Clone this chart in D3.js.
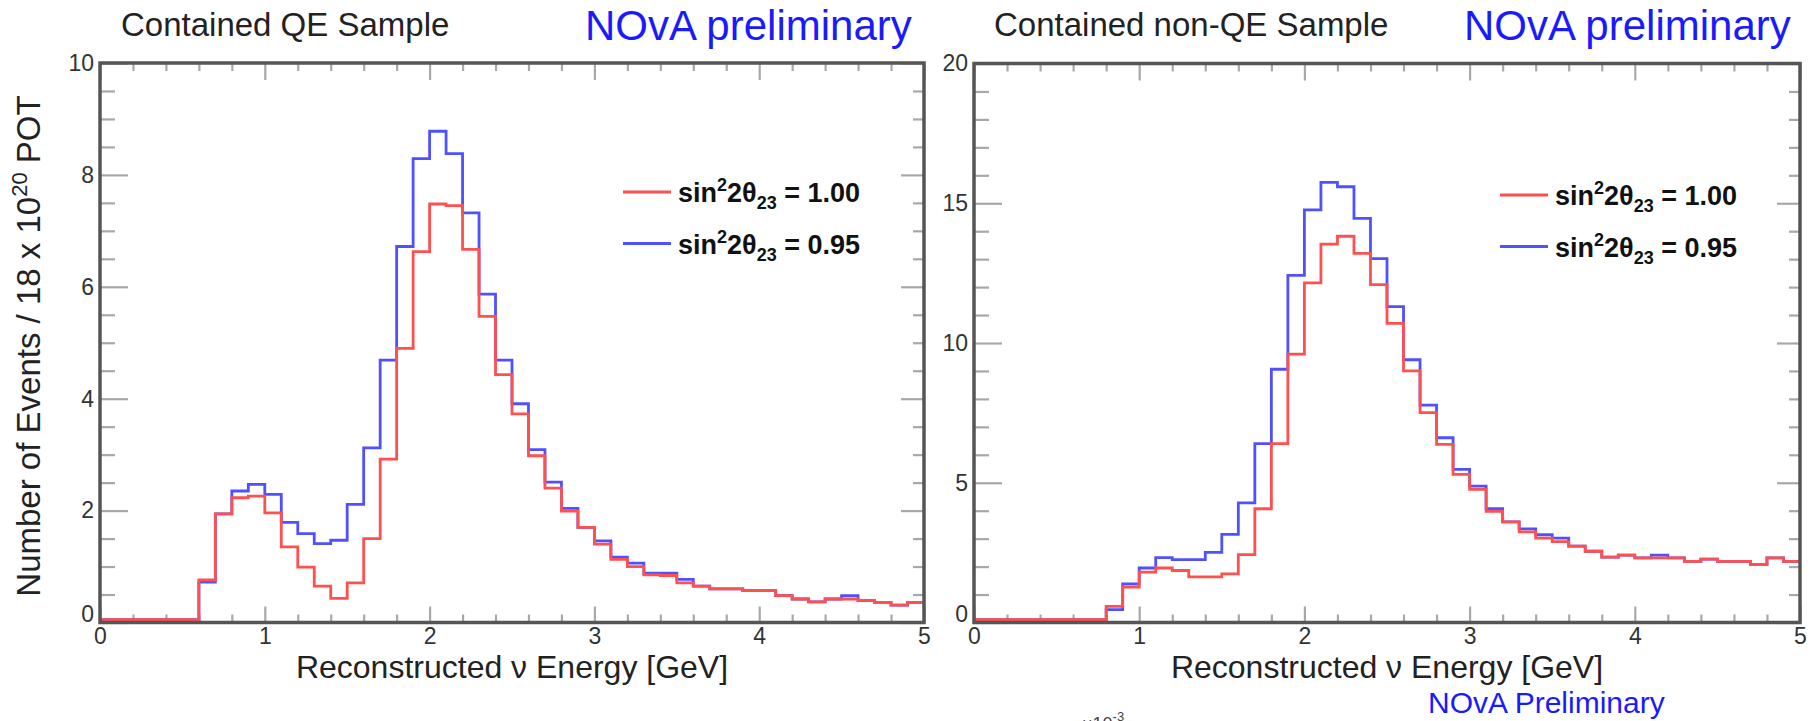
<!DOCTYPE html>
<html>
<head>
<meta charset="utf-8">
<script src="https://cdn.jsdelivr.net/npm/d3@7"></script>
<style>
  html, body { margin: 0; padding: 0; background: #fff; }
  svg { display: block; font-family: "Liberation Sans", Arial, Helvetica, sans-serif; }
</style>
</head>
<body>
<svg id="chart" width="1814" height="721"></svg>
<script>
// Reconstructed neutrino energy bin edges [GeV], 0.1 GeV bins
const binEdges = [0.0,0.1,0.2,0.3,0.4,0.5,0.6,0.7,0.8,0.9,1.0,1.1,1.2,1.3,1.4,1.5,1.6,1.7,1.8,1.9,
                  2.0,2.1,2.2,2.3,2.4,2.5,2.6,2.7,2.8,2.9,3.0,3.1,3.2,3.3,3.4,3.5,3.6,3.7,3.8,3.9,
                  4.0,4.1,4.2,4.3,4.4,4.5,4.6,4.7,4.8,4.9,5.0];

// Contained QE sample, events per bin
const qeMaximal = [0.05,0.05,0.05,0.05,0.05,0.05,0.76,1.94,2.23,2.26,
                   1.96,1.35,0.99,0.65,0.43,0.71,1.50,2.92,4.90,6.63,
                   7.48,7.45,6.67,5.47,4.43,3.73,2.98,2.40,1.99,1.70,
                   1.40,1.13,1.00,0.85,0.84,0.71,0.65,0.60,0.60,0.57,
                   0.57,0.48,0.42,0.37,0.42,0.42,0.39,0.36,0.31,0.36];
const qeNonMaximal = [0.05,0.05,0.05,0.05,0.05,0.05,0.72,1.94,2.35,2.47,
                      2.29,1.79,1.59,1.41,1.47,2.11,3.12,4.69,6.72,8.29,
                      8.78,8.38,7.32,5.87,4.69,3.91,3.09,2.51,2.04,1.70,
                      1.46,1.17,1.06,0.88,0.88,0.77,0.65,0.60,0.60,0.57,
                      0.57,0.48,0.42,0.37,0.42,0.48,0.39,0.36,0.31,0.36];

// Contained non-QE sample, events per bin
const nonQeMaximal = [0.10,0.10,0.10,0.10,0.10,0.10,0.10,0.10,0.58,1.27,
                      1.80,1.95,1.86,1.63,1.63,1.74,2.43,4.07,6.40,9.60,
                      12.15,13.54,13.82,13.21,12.09,10.70,9.00,7.51,6.37,5.30,
                      4.76,3.98,3.60,3.24,3.02,2.89,2.73,2.55,2.34,2.41,
                      2.31,2.31,2.31,2.19,2.27,2.19,2.19,2.07,2.31,2.19];
const nonQeNonMaximal = [0.10,0.10,0.10,0.10,0.10,0.10,0.10,0.10,0.46,1.38,
                         1.95,2.32,2.25,2.25,2.51,3.15,4.28,6.40,9.06,12.42,
                         14.76,15.75,15.59,14.46,13.02,11.30,9.40,7.78,6.61,5.48,
                         4.88,4.07,3.60,3.35,3.14,3.02,2.73,2.55,2.34,2.41,
                         2.31,2.41,2.31,2.19,2.27,2.19,2.19,2.07,2.31,2.19];

// Axis ticks
const xMajorTicks = [0,1,2,3,4,5];
const xMinorTicks = [0.2,0.4,0.6,0.8,1.2,1.4,1.6,1.8,2.2,2.4,2.6,2.8,3.2,3.4,3.6,3.8,4.2,4.4,4.6,4.8];
const qeYMajor = [0,2,4,6,8,10];
const qeYMinor = [0.5,1,1.5,2.5,3,3.5,4.5,5,5.5,6.5,7,7.5,8.5,9,9.5];
const nonQeYMajor = [0,5,10,15,20];
const nonQeYMinor = [1,2,3,4,6,7,8,9,11,12,13,14,16,17,18,19];

// Legend entries: sin^2(2 theta_23) values
const legendValues = ["1.00", "0.95"];

const RED = "#ff5050";
const BLUE = "#5050ff";
const FRAME = "#555555";
const TICK = "#a8a8a8";
const FONT = "'Liberation Sans', Arial, Helvetica, sans-serif";

const svg = d3.select("#chart");

function stepPoints(values) {
  const pts = [];
  values.forEach((v, i) => {
    pts.push([binEdges[i], v]);
    pts.push([binEdges[i + 1], v]);
  });
  return pts;
}

function drawPanel(cfg) {
  const g = svg.append("g");
  const x = d3.scaleLinear().domain([0, 5]).range([cfg.left, cfg.right]);
  const y = d3.scaleLinear().domain([0, cfg.yMax]).range([cfg.bottom, cfg.top]);

  // ticks, all pointing into the frame
  const tickAxis = (axis, tr) => {
    const a = g.append("g").attr("transform", tr).call(axis);
    a.select(".domain").remove();
    a.selectAll("line").attr("stroke", TICK).attr("stroke-width", 2.2);
    a.selectAll("text").remove();
  };
  tickAxis(d3.axisBottom(x).tickValues(xMinorTicks).tickSize(-8), `translate(0,${cfg.bottom})`);
  tickAxis(d3.axisBottom(x).tickValues(xMajorTicks).tickSize(-16), `translate(0,${cfg.bottom})`);
  tickAxis(d3.axisTop(x).tickValues(xMinorTicks).tickSize(-8), `translate(0,${cfg.top})`);
  tickAxis(d3.axisTop(x).tickValues(xMajorTicks).tickSize(-17), `translate(0,${cfg.top})`);
  tickAxis(d3.axisLeft(y).tickValues(cfg.yMinor).tickSize(-15), `translate(${cfg.left},0)`);
  tickAxis(d3.axisLeft(y).tickValues(cfg.yMajor).tickSize(-28), `translate(${cfg.left},0)`);
  tickAxis(d3.axisRight(y).tickValues(cfg.yMinor).tickSize(-11), `translate(${cfg.right},0)`);
  tickAxis(d3.axisRight(y).tickValues(cfg.yMajor).tickSize(-23), `translate(${cfg.right},0)`);

  // tick labels
  const xl = g.append("g").attr("transform", `translate(0,${cfg.bottom})`)
    .call(d3.axisBottom(x).tickValues(xMajorTicks).tickSize(0).tickPadding(5).tickFormat(d3.format("d")));
  xl.select(".domain").remove();
  xl.selectAll("text").attr("font-size", 23).attr("font-family", FONT).attr("fill", "#333");

  const yl = g.append("g").attr("transform", `translate(${cfg.left},0)`)
    .call(d3.axisLeft(y).tickValues(cfg.yMajor).tickSize(0).tickPadding(6).tickFormat(d3.format("d")));
  yl.select(".domain").remove();
  yl.selectAll("text").attr("font-size", 23).attr("font-family", FONT).attr("fill", "#333");
  yl.selectAll(".tick").filter(d => d === 0).select("text").attr("dy", "-0.05em");

  // histograms
  const line = d3.line().x(d => x(d[0])).y(d => y(d[1]));
  g.append("path").datum(stepPoints(cfg.blue))
    .attr("d", line).attr("fill", "none").attr("stroke", BLUE).attr("stroke-width", 2.8);
  g.append("path").datum(stepPoints(cfg.red))
    .attr("d", line).attr("fill", "none").attr("stroke", RED).attr("stroke-width", 2.8);

  // frame
  g.append("rect")
    .attr("x", cfg.left).attr("y", cfg.top)
    .attr("width", cfg.right - cfg.left).attr("height", cfg.bottom - cfg.top)
    .attr("fill", "none").attr("stroke", FRAME).attr("stroke-width", 3.5);

  // x axis title
  g.append("text")
    .attr("x", (cfg.left + cfg.right) / 2).attr("y", 678)
    .attr("text-anchor", "middle").attr("font-size", 32).attr("font-family", FONT).attr("fill", "#222")
    .text("Reconstructed \u03bd Energy [GeV]");

  // sample title and preliminary tag
  g.append("text").attr("x", cfg.titleX).attr("y", 36)
    .attr("font-size", 33).attr("font-family", FONT).attr("fill", "#222").text(cfg.title);
  g.append("text").attr("x", cfg.tagX).attr("y", 40)
    .attr("font-size", 42).attr("font-family", FONT).attr("fill", "#1a1aff").text("NOvA preliminary");

  // legend
  const colors = [RED, BLUE];
  legendValues.forEach((val, i) => {
    const ly = cfg.legendY + i * 51.6;
    g.append("line")
      .attr("x1", cfg.legendX).attr("x2", cfg.legendX + 48)
      .attr("y1", ly).attr("y2", ly)
      .attr("stroke", colors[i]).attr("stroke-width", 3);
    const t = g.append("text")
      .attr("x", cfg.legendX + 55).attr("y", ly + 10)
      .attr("font-size", 27).attr("font-weight", "bold").attr("font-family", FONT).attr("fill", "#111");
    t.append("tspan").text("sin");
    t.append("tspan").attr("font-size", 18).attr("dy", -11).text("2");
    t.append("tspan").attr("dy", 11).text("2\u03b8");
    t.append("tspan").attr("font-size", 18).attr("dy", 7).text("23");
    t.append("tspan").attr("dy", -7).text(" = " + val);
  });
}

drawPanel({
  left: 100, right: 924, top: 63, bottom: 622.5, yMax: 10,
  yMajor: qeYMajor, yMinor: qeYMinor,
  red: qeMaximal, blue: qeNonMaximal,
  title: "Contained QE Sample", titleX: 121, tagX: 585,
  legendX: 623, legendY: 192
});

drawPanel({
  left: 974, right: 1800, top: 63.5, bottom: 622.5, yMax: 20,
  yMajor: nonQeYMajor, yMinor: nonQeYMinor,
  red: nonQeMaximal, blue: nonQeNonMaximal,
  title: "Contained non-QE Sample", titleX: 994, tagX: 1464,
  legendX: 1500, legendY: 195
});

// vertical axis title of the QE panel
const yTitle = svg.append("text")
  .attr("transform", "translate(40,346) rotate(-90)")
  .attr("text-anchor", "middle").attr("font-size", 33).attr("font-family", FONT).attr("fill", "#222");
yTitle.append("tspan").text("Number of Events / 18 x 10");
yTitle.append("tspan").attr("font-size", 22).attr("dy", -13).text("20");
yTitle.append("tspan").attr("dy", 13).text(" POT");

// preliminary tag below the non-QE panel
svg.append("text").attr("x", 1428).attr("y", 713)
  .attr("font-size", 30).attr("font-family", FONT).attr("fill", "#1a1aff").text("NOvA Preliminary");

// exponent of the next plot's axis, cut at the page edge
const expo = svg.append("text").attr("x", 1082).attr("y", 730)
  .attr("font-size", 18).attr("font-family", FONT).attr("fill", "#444");
expo.append("tspan").text("\u00d710");
expo.append("tspan").attr("font-size", 13).attr("dy", -9).text("-3");
</script>
</body>
</html>
